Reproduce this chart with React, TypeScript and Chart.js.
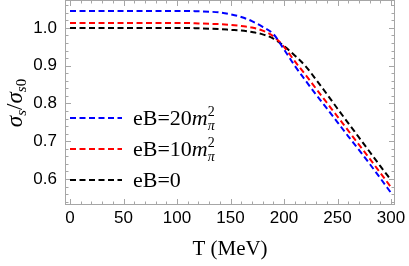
import React, { useEffect, useRef } from 'react';
import { Chart, registerables } from 'chart.js';

Chart.register(...registerables);

// T (MeV)
const temperatures = [0, 10, 20, 30, 40, 50, 60, 70, 80, 90, 100, 110, 120, 130, 140, 150, 160, 170, 180, 190, 200, 210, 220, 230, 240, 250, 260, 270, 280, 290, 300];

// sigma_s / sigma_s0
const ratioEB20 = [1.045, 1.045, 1.045, 1.045, 1.045, 1.045, 1.045, 1.045, 1.045, 1.045, 1.045, 1.045, 1.044, 1.043, 1.041, 1.036, 1.029, 1.018, 1.003, 0.984, 0.943, 0.900, 0.861, 0.823, 0.787, 0.750, 0.713, 0.677, 0.640, 0.602, 0.563];
const ratioEB10 = [1.013, 1.013, 1.013, 1.013, 1.013, 1.013, 1.013, 1.013, 1.013, 1.013, 1.013, 1.013, 1.012, 1.011, 1.010, 1.008, 1.005, 1.001, 0.993, 0.978, 0.950, 0.912, 0.876, 0.839, 0.802, 0.765, 0.728, 0.691, 0.654, 0.616, 0.578];
const ratioEB0 = [1.000, 1.000, 1.000, 1.000, 1.000, 1.000, 1.000, 1.000, 1.000, 1.000, 1.000, 1.000, 0.999, 0.998, 0.997, 0.995, 0.993, 0.989, 0.983, 0.972, 0.952, 0.927, 0.899, 0.863, 0.825, 0.786, 0.748, 0.710, 0.672, 0.634, 0.597];

const seriesNames = ['eB=20', 'eB=10', 'eB=0'];
const seriesHasMPi = [true, true, false];
const seriesColors = ['#0000ff', '#ff0000', '#000000'];

const xTickValues = [0, 50, 100, 150, 200, 250, 300];
const yTickValues = [0.6, 0.7, 0.8, 0.9, 1.0];
const xMinorStep = 10;
const yMinorStep = 0.02;

const xTitle = 'T (MeV)';

const FRAME = '#a6a6a6';
const SERIF = '"Liberation Serif", "DejaVu Serif", serif';
const SANS = '"Liberation Sans", Arial, sans-serif';

type Part = { t: string; italic?: boolean; size: number; dy?: number; stackWith?: boolean };

function partsWidth(ctx: CanvasRenderingContext2D, parts: Part[]) {
  let w = 0;
  let lastW = 0;
  for (const p of parts) {
    ctx.font = `${p.italic ? 'italic ' : ''}${p.size}px ${SERIF}`;
    const pw = ctx.measureText(p.t).width;
    if (p.stackWith) {
      if (pw > lastW) { w += pw - lastW; lastW = pw; }
    } else {
      w += pw;
      lastW = pw;
    }
  }
  return w;
}

function drawParts(ctx: CanvasRenderingContext2D, parts: Part[], x: number, y: number) {
  let cx = x;
  let lastX = x;
  let lastW = 0;
  for (const p of parts) {
    ctx.font = `${p.italic ? 'italic ' : ''}${p.size}px ${SERIF}`;
    const pw = ctx.measureText(p.t).width;
    if (p.stackWith) {
      ctx.fillText(p.t, lastX, y + (p.dy || 0));
      if (pw > lastW) { cx = lastX + pw; lastW = pw; }
    } else {
      ctx.fillText(p.t, cx, y + (p.dy || 0));
      lastX = cx;
      lastW = pw;
      cx += pw;
    }
  }
}

const framePlugin = {
  id: 'mmaFrame',
  beforeDatasetsDraw(chart: any) {
    const { ctx, chartArea: a, scales } = chart;
    const xs = scales.x;
    const ys = scales.y;
    ctx.save();
    ctx.strokeStyle = FRAME;
    ctx.lineWidth = 1;
    ctx.strokeRect(a.left + 0.5, a.top + 0.5, a.right - a.left - 1, a.bottom - a.top - 1);
    ctx.beginPath();
    const xmin = xs.min, xmax = xs.max;
    for (let i = Math.ceil(xmin / xMinorStep); i * xMinorStep <= xmax; i++) {
      const v = i * xMinorStep;
      const major = xTickValues.includes(v);
      const len = major ? 6 : 3.5;
      const px = Math.round(xs.getPixelForValue(v)) + 0.5;
      ctx.moveTo(px, a.bottom);
      ctx.lineTo(px, a.bottom - len);
      ctx.moveTo(px, a.top);
      ctx.lineTo(px, a.top + len);
    }
    const ymin = ys.min, ymax = ys.max;
    for (let i = Math.ceil(ymin / yMinorStep - 1e-9); i * yMinorStep <= ymax + 1e-9; i++) {
      const v = Math.round(i * yMinorStep * 1000) / 1000;
      const major = yTickValues.some((t) => Math.abs(t - v) < 1e-6);
      const len = major ? 6 : 3.5;
      const py = Math.round(ys.getPixelForValue(v)) + 0.5;
      ctx.moveTo(a.left, py);
      ctx.lineTo(a.left + len, py);
      ctx.moveTo(a.right, py);
      ctx.lineTo(a.right - len, py);
    }
    ctx.stroke();
    ctx.restore();
  },
  afterDraw(chart: any) {
    const { ctx, chartArea: a } = chart;
    ctx.save();
    ctx.fillStyle = '#000';
    ctx.textBaseline = 'alphabetic';

    // Legend
    const rowY = [118, 149, 180];
    seriesNames.forEach((name, i) => {
      const ds = chart.data.datasets[i];
      const y = a.top + rowY[i];
      ctx.save();
      ctx.strokeStyle = ds.borderColor;
      ctx.lineWidth = 2;
      ctx.setLineDash([6, 3.5]);
      ctx.beginPath();
      ctx.moveTo(a.left + 5, y);
      ctx.lineTo(a.left + 57, y);
      ctx.stroke();
      ctx.restore();
      const parts: Part[] = [{ t: name, size: 22 }];
      if (seriesHasMPi[i]) {
        parts.push({ t: 'm', italic: true, size: 22 });
        parts.push({ t: '2', size: 14, dy: -9 });
        parts.push({ t: 'π', italic: true, size: 14, dy: 5, stackWith: true });
      }
      drawParts(ctx, parts, a.left + 68, y + 7);
    });

    // X title
    ctx.font = `21px ${SERIF}`;
    ctx.textAlign = 'center';
    ctx.textBaseline = 'middle';
    ctx.fillText(xTitle, (a.left + a.right) / 2, 249);

    // Y title
    ctx.textAlign = 'left';
    ctx.textBaseline = 'alphabetic';
    const yParts: Part[] = [
      { t: 'σ', italic: true, size: 23 },
      { t: 's', italic: true, size: 15, dy: 4 },
      { t: '/', size: 23 },
      { t: 'σ', italic: true, size: 23 },
      { t: 's', italic: true, size: 15, dy: 4 },
      { t: '0', size: 15, dy: 4 },
    ];
    const w = partsWidth(ctx, yParts);
    ctx.translate(22, 103);
    ctx.rotate(-Math.PI / 2);
    drawParts(ctx, yParts, -w / 2, 0);
    ctx.restore();
  },
};

export default function App() {
  const canvasRef = useRef<HTMLCanvasElement | null>(null);

  useEffect(() => {
    document.body.style.margin = '0';
    const canvas = canvasRef.current;
    if (!canvas) return;
    const series = [ratioEB20, ratioEB10, ratioEB0];
    const chart = new Chart(canvas, {
      type: 'line',
      data: {
        datasets: series.map((vals, i) => ({
          label: seriesNames[i],
          data: temperatures.map((t, j) => ({ x: t, y: vals[j] })),
          borderColor: seriesColors[i],
          backgroundColor: seriesColors[i],
          borderWidth: 2,
          borderDash: [6, 3.5],
          pointRadius: 0,
          fill: false,
          cubicInterpolationMode: 'monotone' as const,
        })),
      },
      options: {
        animation: false,
        responsive: false,
        devicePixelRatio: 1,
        layout: { padding: { left: 0, right: 14, top: 0, bottom: 0 } },
        plugins: { legend: { display: false }, tooltip: { enabled: false } },
        scales: {
          x: {
            type: 'linear',
            min: -4.7,
            max: 303.7,
            grid: { display: false, drawTicks: false },
            border: { display: false },
            afterBuildTicks: (s: any) => { s.ticks = xTickValues.map((v) => ({ value: v })); },
            afterFit: (s: any) => { s.height = 61; s.paddingLeft = 0; s.paddingRight = 0; },
            ticks: {
              color: '#000',
              font: { family: SANS, size: 17 },
              padding: 3,
              maxRotation: 0,
              autoSkip: false,
              callback: (v: any) => String(v),
            },
          },
          y: {
            type: 'linear',
            min: 0.531,
            max: 1.074,
            grid: { display: false, drawTicks: false },
            border: { display: false },
            afterBuildTicks: (s: any) => { s.ticks = yTickValues.map((v) => ({ value: v })); },
            afterFit: (s: any) => { s.width = 65; s.paddingTop = 0; s.paddingBottom = 0; },
            ticks: {
              color: '#000',
              font: { family: SANS, size: 17 },
              padding: 8,
              autoSkip: false,
              callback: (v: any) => Number(v).toFixed(1),
            },
          },
        },
      },
      plugins: [framePlugin],
    });
    return () => chart.destroy();
  }, []);

  return (
    <div style={{ position: 'fixed', left: 0, top: 0, width: 409, height: 266, background: '#fff' }}>
      <canvas ref={canvasRef} width={409} height={266} style={{ display: 'block' }} />
    </div>
  );
}
